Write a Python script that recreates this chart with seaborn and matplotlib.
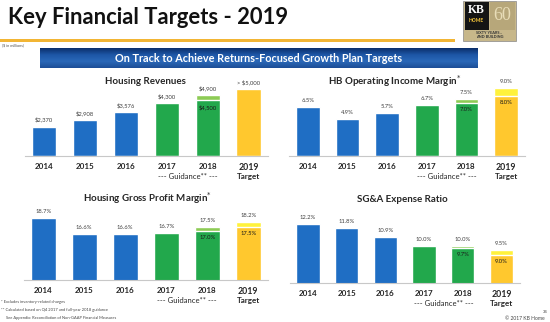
import matplotlib
matplotlib.use("Agg")
import matplotlib.pyplot as plt
from matplotlib.patches import Rectangle
import numpy as np
import pandas as pd
import seaborn as sns

sns.set_theme(style="white")
plt.rcParams['font.family'] = ['Lato', 'DejaVu Sans']

# ---------------- data ----------------
years = ["2014", "2015", "2016", "2017", "2018", "2019"]

rev_base = [2370, 2908, 3576, 4300, 4500, 5400]
rev_top = [2370, 2908, 3576, 4300, 4900, 5400]
rev_lab_top = ["$2,370", "$2,908", "$3,576", "$4,300", "$4,900", "> $5,000"]
rev_lab_in = ["", "", "", "", "$4,500", ""]

opm_base = [6.5, 4.9, 5.7, 6.7, 7.0, 8.0]
opm_top = [6.5, 4.9, 5.7, 6.7, 7.5, 9.0]
opm_lab_top = ["6.5%", "4.9%", "5.7%", "6.7%", "7.5%", "9.0%"]
opm_lab_in = ["", "", "", "", "7.0%", "8.0%"]

gpm_base = [18.7, 16.6, 16.6, 16.7, 17.0, 17.5]
gpm_top = [18.7, 16.6, 16.6, 16.7, 17.5, 18.2]
gpm_lab_top = ["18.7%", "16.6%", "16.6%", "16.7%", "17.5%", "18.2%"]
gpm_lab_in = ["", "", "", "", "17.0%", "17.5%"]

sga_base = [12.2, 11.8, 10.9, 10.0, 9.7, 9.0]
sga_top = [12.2, 11.8, 10.9, 10.0, 10.0, 9.5]
sga_lab_top = ["12.2%", "11.8%", "10.9%", "10.0%", "10.0%", "9.5%"]
sga_lab_in = ["", "", "", "", "9.7%", "9.0%"]

BLUE = "#1F6EC4"
GREEN = "#22A84C"
LGREEN = "#8DCB55"
YELLOW = "#FFC82E"
LYELLOW = "#FFF23C"
base_colors = [BLUE, BLUE, BLUE, GREEN, GREEN, YELLOW]
top_colors = [BLUE, BLUE, BLUE, GREEN, LGREEN, LYELLOW]

W, H = 550, 322
fig = plt.figure(figsize=(W / 100, H / 100), dpi=100)


def px_axes(left, bottom, width, height):
    return fig.add_axes([left / W, 1 - bottom / H, width / W, height / H])


def ftext(x, y, s, **kw):
    fig.text(x / W, 1 - y / H, s, **kw)


def panel(left, bottom, spacing, height, ymin, ymax, base, top, lab_top, lab_in,
          off_top, off_in):
    width = spacing * 5.94
    ax = px_axes(left, bottom, width, height)
    df_top = pd.DataFrame({"year": years, "value": top})
    df_base = pd.DataFrame({"year": years, "value": base})
    sns.barplot(data=df_top, x="year", y="value", hue="year",
                palette=dict(zip(years, top_colors)), legend=False,
                width=0.6, saturation=1, ax=ax)
    sns.barplot(data=df_base, x="year", y="value", hue="year",
                palette=dict(zip(years, base_colors)), legend=False,
                width=0.6, saturation=1, ax=ax)
    ax.set_xlim(-0.47, 5.47)
    ax.set_ylim(ymin, ymax)
    ax.set_xlabel("")
    ax.set_ylabel("")
    ax.set_yticks([])
    ax.set_xticks(range(6))
    ax.set_xticklabels([])
    ax.tick_params(axis="x", length=0)
    for s in ["top", "left", "right"]:
        ax.spines[s].set_visible(False)
    ax.spines["bottom"].set_color("#C8C8C8")
    ax.spines["bottom"].set_linewidth(0.8)
    for i in range(6):
        ax.annotate(lab_top[i], (i, top[i]), xytext=(0, off_top),
                    textcoords="offset pixels", ha="center", va="bottom",
                    fontsize=4.2, color="#404040")
        if lab_in[i]:
            ax.annotate(lab_in[i], (i, base[i]), xytext=(0, -off_in),
                        textcoords="offset pixels", ha="center", va="top",
                        fontsize=4.2, color="#1a1a1a")
        yr = years[i]
        ax.annotate(yr, (i, 0), xycoords=("data", "axes fraction"),
                    xytext=(0, -7), textcoords="offset pixels",
                    ha="center", va="top",
                    fontsize=6.3 if i == 5 else 5.8, fontweight="bold",
                    color="#262626")
    ax.annotate("Target", (5, 0), xycoords=("data", "axes fraction"),
                xytext=(0, -17), textcoords="offset pixels",
                ha="center", va="top", fontsize=5.8, fontweight="bold",
                color="#262626")
    ax.annotate("--- Guidance** ---", (3.5, 0), xycoords=("data", "axes fraction"),
                xytext=(0, -17), textcoords="offset pixels",
                ha="center", va="top", fontsize=5.5, color="#262626")
    return ax


# panels
panel(25, 156, 40.9, 76, 0, 76 / 0.01236, rev_base, rev_top, rev_lab_top, rev_lab_in, 4, 4)
panel(289.4, 156, 39.6, 76, 0, 76 / 7.55, opm_base, opm_top, opm_lab_top, opm_lab_in, 4, 4)
panel(24, 280, 41, 75, 10.56, 10.56 + 75 / 7.62, gpm_base, gpm_top, gpm_lab_top, gpm_lab_in, 4, 4)
panel(289.8, 283, 38.7, 75, 6.2, 6.2 + 75 / 9.86, sga_base, sga_top, sga_lab_top, sga_lab_in, 4, 4)

# panel titles
tkw = dict(ha="center", va="center", fontsize=7.0, fontweight="bold", color="#262626")
ftext(145, 81, "Housing Revenues", **tkw)
ftext(395, 81, "HB Operating Income Margin$^{*}$", **tkw)
ftext(148, 198, "Housing Gross Profit Margin$^{*}$", **tkw)
ftext(402, 200, "SG&A Expense Ratio", **tkw)

# header
ftext(8, 18, "Key Financial Targets - 2019", ha="left", va="center",
      fontsize=15.8, fontweight="bold", color="#111111")
fig.add_artist(Rectangle((0, 1 - 41.5 / H), 455 / W, 2.2 / H,
                         transform=fig.transFigure, color="#F2B534", lw=0))
ftext(2, 45.5, "($ in millions)", ha="left", va="center", fontsize=2.8, color="#555555")

# banner with vertical gradient
bax = px_axes(40, 68, 438, 20)
grad = np.linspace(0, 1, 50).reshape(-1, 1)
cmap = matplotlib.colors.LinearSegmentedColormap.from_list(
    "b", ["#0B2F6B", "#1D56A6", "#2A68B8", "#1D4E97"])
bax.imshow(grad, aspect="auto", cmap=cmap, extent=[0, 1, 0, 1], origin="upper")
bax.set_axis_off()
bax.text(0.5, 0.5, "On Track to Achieve Returns-Focused Growth Plan Targets",
         ha="center", va="center", fontsize=7.8, fontweight="bold", color="white",
         transform=bax.transAxes)

# logo
fig.add_artist(Rectangle((463 / W, 1 - 41 / H), 53 / W, 40 / H,
                         transform=fig.transFigure, facecolor="#C7B78A",
                         edgecolor="#888888", lw=0.5))
fig.add_artist(Rectangle((464.5 / W, 1 - 30 / H), 24 / W, 28 / H,
                         transform=fig.transFigure, facecolor="#141414", lw=0))
fig.add_artist(Rectangle((490 / W, 1 - 30 / H), 24.5 / W, 28 / H,
                         transform=fig.transFigure, facecolor="#B7A77A", lw=0))
ftext(476.5, 10, "KB", ha="center", va="center", fontsize=8.5, fontweight="bold",
      color="white", family=["Liberation Serif", "DejaVu Serif"])
ftext(476.5, 21, "HOME", ha="center", va="center", fontsize=3.6, fontweight="bold",
      color="#F2C33A")
ftext(502, 16, "60", ha="center", va="center", fontsize=13, color="#E8DDB8",
      family=["Liberation Serif", "DejaVu Serif"])
ftext(489.5, 33, "SIXTY YEARS...", ha="center", va="center", fontsize=2.8,
      fontweight="bold", color="#333333")
ftext(489.5, 37.5, "AND BUILDING", ha="center", va="center", fontsize=2.8,
      fontweight="bold", color="#333333")

# footnotes
fkw = dict(ha="left", va="center", fontsize=2.9, color="#444444")
ftext(1, 302, "* Excludes inventory-related charges", **fkw)
ftext(1, 310, "** Calculated based on Q4 2017 and full-year 2018 guidance", **fkw)
ftext(6, 317.5, "See Appendix: Reconciliation of Non-GAAP Financial Measures", **fkw)
ftext(545, 312, "34", ha="center", va="center", fontsize=2.9, color="#444444")
ftext(545, 318, "\u00a9 2017 KB Home", ha="right", va="center", fontsize=3.6, color="#444444")

fig.savefig("out.png", dpi=100)
